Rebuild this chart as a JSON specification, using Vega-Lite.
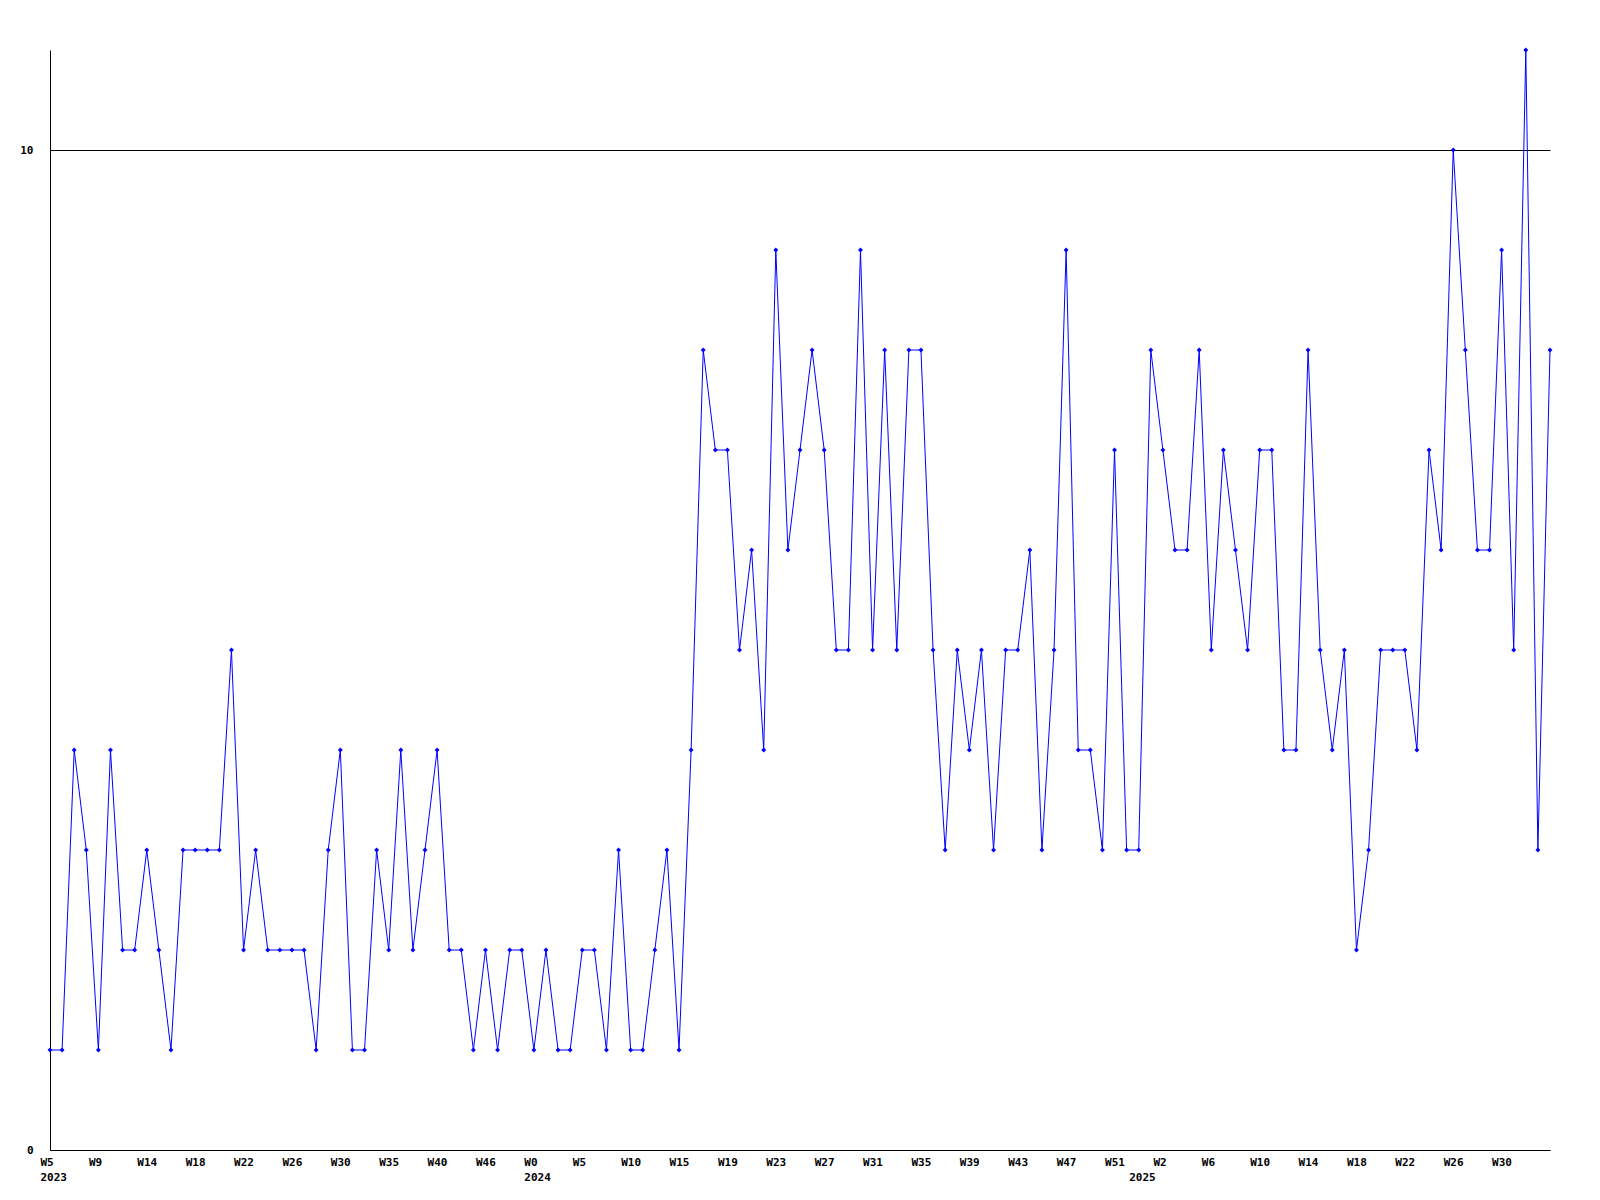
{
  "$schema": "https://vega.github.io/schema/vega-lite/v6.json",
  "autosize": "none",
  "padding": {"left": 50, "top": 50, "right": 50, "bottom": 50},
  "width": 1500,
  "height": 1100,
  "background": "white",
  "config": {
    "view": {"stroke": null},
    "axis": {
      "labelFont": "DejaVu Sans Mono",
      "labelFontWeight": "bold",
      "labelFontSize": 11,
      "labelColor": "black",
      "domainColor": "black",
      "domainWidth": 1,
      "ticks": false,
      "title": null
    }
  },
  "data": {
    "values": [
      {"i":0,"v":1},{"i":1,"v":1},{"i":2,"v":4},{"i":3,"v":3},{"i":4,"v":1},{"i":5,"v":4},{"i":6,"v":2},{"i":7,"v":2},{"i":8,"v":3},{"i":9,"v":2},
      {"i":10,"v":1},{"i":11,"v":3},{"i":12,"v":3},{"i":13,"v":3},{"i":14,"v":3},{"i":15,"v":5},{"i":16,"v":2},{"i":17,"v":3},{"i":18,"v":2},{"i":19,"v":2},
      {"i":20,"v":2},{"i":21,"v":2},{"i":22,"v":1},{"i":23,"v":3},{"i":24,"v":4},{"i":25,"v":1},{"i":26,"v":1},{"i":27,"v":3},{"i":28,"v":2},{"i":29,"v":4},
      {"i":30,"v":2},{"i":31,"v":3},{"i":32,"v":4},{"i":33,"v":2},{"i":34,"v":2},{"i":35,"v":1},{"i":36,"v":2},{"i":37,"v":1},{"i":38,"v":2},{"i":39,"v":2},
      {"i":40,"v":1},{"i":41,"v":2},{"i":42,"v":1},{"i":43,"v":1},{"i":44,"v":2},{"i":45,"v":2},{"i":46,"v":1},{"i":47,"v":3},{"i":48,"v":1},{"i":49,"v":1},
      {"i":50,"v":2},{"i":51,"v":3},{"i":52,"v":1},{"i":53,"v":4},{"i":54,"v":8},{"i":55,"v":7},{"i":56,"v":7},{"i":57,"v":5},{"i":58,"v":6},{"i":59,"v":4},
      {"i":60,"v":9},{"i":61,"v":6},{"i":62,"v":7},{"i":63,"v":8},{"i":64,"v":7},{"i":65,"v":5},{"i":66,"v":5},{"i":67,"v":9},{"i":68,"v":5},{"i":69,"v":8},
      {"i":70,"v":5},{"i":71,"v":8},{"i":72,"v":8},{"i":73,"v":5},{"i":74,"v":3},{"i":75,"v":5},{"i":76,"v":4},{"i":77,"v":5},{"i":78,"v":3},{"i":79,"v":5},
      {"i":80,"v":5},{"i":81,"v":6},{"i":82,"v":3},{"i":83,"v":5},{"i":84,"v":9},{"i":85,"v":4},{"i":86,"v":4},{"i":87,"v":3},{"i":88,"v":7},{"i":89,"v":3},
      {"i":90,"v":3},{"i":91,"v":8},{"i":92,"v":7},{"i":93,"v":6},{"i":94,"v":6},{"i":95,"v":8},{"i":96,"v":5},{"i":97,"v":7},{"i":98,"v":6},{"i":99,"v":5},
      {"i":100,"v":7},{"i":101,"v":7},{"i":102,"v":4},{"i":103,"v":4},{"i":104,"v":8},{"i":105,"v":5},{"i":106,"v":4},{"i":107,"v":5},{"i":108,"v":2},{"i":109,"v":3},
      {"i":110,"v":5},{"i":111,"v":5},{"i":112,"v":5},{"i":113,"v":4},{"i":114,"v":7},{"i":115,"v":6},{"i":116,"v":10},{"i":117,"v":8},{"i":118,"v":6},{"i":119,"v":6},
      {"i":120,"v":9},{"i":121,"v":5},{"i":122,"v":11},{"i":123,"v":3},{"i":124,"v":8}
    ]
  },
  "encoding": {
    "x": {
      "field": "i",
      "type": "quantitative",
      "scale": {"domain": [0, 124], "nice": false, "zero": false},
      "axis": {
        "values": [0,4,8,12,16,20,24,28,32,36,40,44,48,52,56,60,64,68,72,76,80,84,88,90,92,96,100,104,108,112,116,120],
        "grid": false,
        "labelAlign": "left",
        "labelBaseline": "top",
        "labelLineHeight": 15,
        "labelPadding": 6,
        "labelOffset": -10,
        "labelOverlap": false,
        "labelBound": false,
        "labelFlush": false,
        "labelExpr": "datum.value == 90 ? ['', '2025'] : datum.value == 0 ? ['W5', '2023'] : datum.value == 40 ? ['W0', '2024'] : ['W5','W9','W14','W18','W22','W26','W30','W35','W40','W46','W0','W5','W10','W15','W19','W23','W27','W31','W35','W39','W43','W47','W51','W2','W6','W10','W14','W18','W22','W26','W30'][datum.value / 4]"
      }
    },
    "y": {
      "field": "v",
      "type": "quantitative",
      "scale": {"domain": [0, 11], "nice": false, "zero": true},
      "axis": {
        "values": [0, 10],
        "grid": true,
        "gridColor": "black",
        "gridOpacity": 1,
        "gridWidth": 1,
        "labelPadding": 17
      }
    }
  },
  "layer": [
    {"mark": {"type": "line", "color": "#0000ff", "strokeWidth": 1}},
    {"mark": {"type": "point", "shape": "diamond", "filled": true, "color": "#0000ff", "size": 24, "opacity": 1}}
  ]
}
